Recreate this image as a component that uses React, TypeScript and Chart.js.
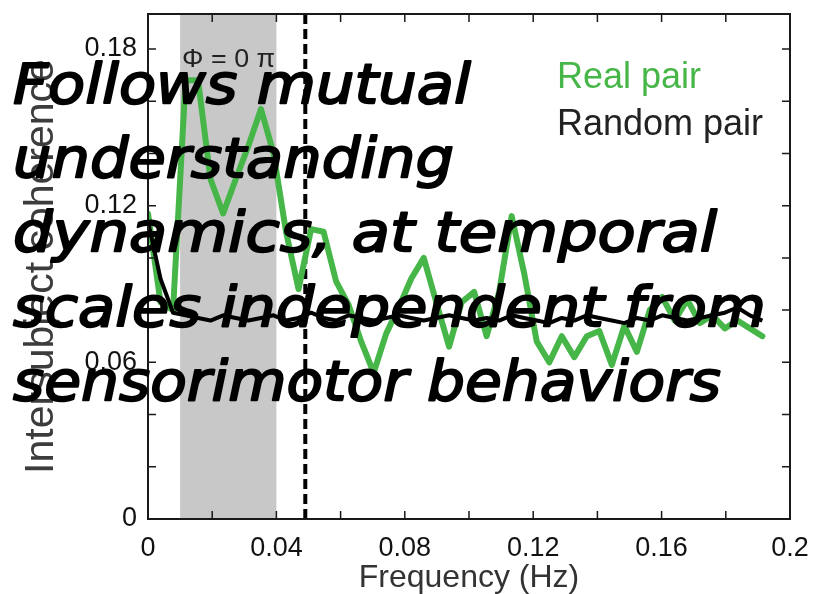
import React, { useEffect, useRef } from 'react';
import { Chart, registerables } from 'chart.js';

Chart.register(...registerables);

// ---- data ----
const frequencies = [
  0, 0.0039, 0.0078, 0.0117, 0.0156, 0.0195, 0.0234, 0.0273, 0.0313, 0.0352,
  0.0391, 0.043, 0.0469, 0.0508, 0.0547, 0.0586, 0.0625, 0.0664, 0.0703, 0.0742,
  0.0781, 0.082, 0.0859, 0.0898, 0.0938, 0.0977, 0.1016, 0.1055, 0.1094, 0.1133,
  0.1172, 0.1211, 0.125, 0.1289, 0.1328, 0.1367, 0.1406, 0.1445, 0.1484, 0.1523,
  0.1563, 0.1602, 0.1641, 0.168, 0.1719, 0.1758, 0.1797, 0.1836, 0.1875, 0.1914,
];

const realPair = [
  0.117, 0.083, 0.080, 0.168, 0.168, 0.130, 0.117, 0.130, 0.143, 0.157,
  0.140, 0.110, 0.088, 0.111, 0.110, 0.091, 0.082, 0.068, 0.056, 0.071,
  0.081, 0.092, 0.100, 0.083, 0.066, 0.083, 0.087, 0.070, 0.087, 0.116,
  0.094, 0.068, 0.060, 0.070, 0.062, 0.070, 0.072, 0.059, 0.074, 0.064,
  0.080, 0.085, 0.076, 0.084, 0.075, 0.078, 0.073, 0.076, 0.073, 0.070,
];

const randomPair = [
  0.114, 0.092, 0.079, 0.078, 0.077, 0.076, 0.078, 0.077, 0.076, 0.077,
  0.078, 0.076, 0.077, 0.079, 0.077, 0.076, 0.078, 0.077, 0.076, 0.077,
  0.078, 0.077, 0.076, 0.077, 0.078, 0.077, 0.076, 0.077, 0.076, 0.078,
  0.077, 0.076, 0.075, 0.077, 0.076, 0.078, 0.077, 0.076, 0.075, 0.077,
  0.076, 0.078, 0.077, 0.076, 0.077, 0.078, 0.079, 0.081, 0.078, 0.076,
];

const seriesLabels = ['Real pair', 'Random pair'];
const xTitle = 'Frequency (Hz)';
const yTitle = 'Intersubject coherence';
const bandRange = [0.01, 0.04];
const bandLabel = 'Φ = 0 π';
const cutoffFrequency = 0.049;
const overlayLines = [
  'Follows mutual',
  'understanding',
  'dynamics, at temporal',
  'scales independent from',
  'sensorimotor behaviors',
];

const X_MAX = 0.2;
const Y_MAX = 0.1934;

const GREEN = '#46b648';
const SANS = '"Liberation Sans", Arial, sans-serif';

function isMultiple(v: number, stepHundredths: number) {
  const h = v * 100;
  const r = Math.round(h);
  return Math.abs(h - r) < 1e-6 && r % stepHundredths === 0;
}

function fmt(v: number) {
  return String(+v.toFixed(2));
}

function drawFitted(ctx: CanvasRenderingContext2D, text: string, x: number, y: number, width: number, stroke = 0) {
  const w = ctx.measureText(text).width;
  ctx.save();
  ctx.translate(x, y);
  ctx.scale(width / w, 1);
  if (stroke > 0) {
    ctx.lineWidth = stroke;
    ctx.lineJoin = 'round';
    ctx.strokeText(text, 0, 0);
  }
  ctx.fillText(text, 0, 0);
  ctx.restore();
}

const decorPlugin = {
  id: 'decor',
  beforeDatasetsDraw(chart: any) {
    const { ctx, chartArea: a, scales } = chart;
    const x = scales.x;
    ctx.save();
    const x0 = x.getPixelForValue(bandRange[0]);
    const x1 = x.getPixelForValue(bandRange[1]);
    ctx.fillStyle = '#c8c8c8';
    ctx.fillRect(x0, a.top, x1 - x0, a.bottom - a.top);

    const xd = x.getPixelForValue(cutoffFrequency);
    ctx.setLineDash([10, 5]);
    ctx.lineWidth = 4;
    ctx.strokeStyle = '#000';
    ctx.beginPath();
    ctx.moveTo(xd, a.top);
    ctx.lineTo(xd, a.bottom);
    ctx.stroke();
    ctx.restore();
  },
  afterDatasetsDraw(chart: any) {
    const { ctx, chartArea: a, scales } = chart;
    const x = scales.x;
    const y = scales.y;
    ctx.save();
    // frame
    ctx.strokeStyle = '#1a1a1a';
    ctx.lineWidth = 2;
    ctx.strokeRect(a.left, a.top, a.right - a.left, a.bottom - a.top);
    // inward ticks
    ctx.lineWidth = 1.5;
    const tl = 8;
    ctx.beginPath();
    x.ticks.forEach((t: any) => {
      if (!isMultiple(t.value, 2)) return;
      const px = x.getPixelForValue(t.value);
      ctx.moveTo(px, a.bottom);
      ctx.lineTo(px, a.bottom - tl);
      ctx.moveTo(px, a.top);
      ctx.lineTo(px, a.top + tl);
    });
    y.ticks.forEach((t: any) => {
      if (!isMultiple(t.value, 2)) return;
      const py = y.getPixelForValue(t.value);
      ctx.moveTo(a.left, py);
      ctx.lineTo(a.left + tl, py);
      ctx.moveTo(a.right, py);
      ctx.lineTo(a.right - tl, py);
    });
    ctx.stroke();

    // band label
    ctx.fillStyle = '#222';
    ctx.font = `25px ${SANS}`;
    ctx.textBaseline = 'alphabetic';
    ctx.textAlign = 'left';
    drawFitted(ctx, bandLabel, x.getPixelForValue(bandRange[0]) + 2, 67, 93);

    // legend (text only)
    ctx.font = `36px ${SANS}`;
    const ds = chart.data.datasets;
    const byLabel = (l: string) => ds.find((d: any) => d.label === l);
    seriesLabels.forEach((l, i) => {
      const d = byLabel(l);
      ctx.fillStyle = i === 0 ? d.borderColor : '#222';
      ctx.fillText(l, 557, 88 + i * 47);
    });
    ctx.restore();
  },
  afterDraw(chart: any) {
    const { ctx } = chart;
    ctx.save();
    ctx.fillStyle = '#000';
    ctx.strokeStyle = '#000';
    ctx.font = 'italic 56px "DejaVu Sans", sans-serif';
    ctx.textBaseline = 'alphabetic';
    ctx.textAlign = 'left';
    const widths = [458, 441, 704, 753, 708];
    overlayLines.forEach((line, i) => {
      drawFitted(ctx, line, 13, 103 + i * 74.2, widths[i], 2);
    });
    ctx.restore();
  },
};

export default function App() {
  const ref = useRef<HTMLCanvasElement>(null);

  useEffect(() => {
    const canvas = ref.current;
    if (!canvas) return;
    const chart = new Chart(canvas, {
      type: 'line',
      data: {
        datasets: [
          {
            label: seriesLabels[0],
            data: frequencies.map((f, i) => ({ x: f, y: realPair[i] })),
            borderColor: GREEN,
            backgroundColor: GREEN,
            borderWidth: 6,
            pointRadius: 0,
            tension: 0,
            borderJoinStyle: 'round',
            borderCapStyle: 'round',
            order: 1,
          },
          {
            label: seriesLabels[1],
            data: frequencies.map((f, i) => ({ x: f, y: randomPair[i] })),
            borderColor: '#000',
            backgroundColor: '#000',
            borderWidth: 4,
            pointRadius: 0,
            tension: 0,
            borderJoinStyle: 'round',
            order: 0,
          },
        ],
      },
      options: {
        responsive: false,
        animation: false,
        devicePixelRatio: 1,
        layout: { padding: { left: 0, top: 14, right: 25, bottom: 0 } },
        plugins: { legend: { display: false }, tooltip: { enabled: false } },
        scales: {
          x: {
            type: 'linear',
            position: 'bottom',
            min: 0,
            max: X_MAX,
            grid: { display: false, drawTicks: false },
            border: { display: false },
            ticks: {
              stepSize: 0.02,
              autoSkip: false,
              maxRotation: 0,
              padding: 13,
              color: '#111',
              font: { family: SANS, size: 27 },
              callback: (v: any) => (isMultiple(Number(v), 4) ? fmt(Number(v)) : ''),
            },
            title: {
              display: true,
              text: xTitle,
              color: '#333',
              font: { family: SANS, size: 32, lineHeight: 1 },
              padding: { top: 0, bottom: 0 },
            },
            afterFit: (s: any) => {
              s.height = 75;
              s.paddingLeft = 0;
              s.paddingRight = 0;
            },
          },
          y: {
            type: 'linear',
            min: 0,
            max: Y_MAX,
            grid: { display: false, drawTicks: false },
            border: { display: false },
            ticks: {
              stepSize: 0.02,
              autoSkip: false,
              padding: 11,
              color: '#111',
              font: { family: SANS, size: 27 },
              callback: (v: any) => (isMultiple(Number(v), 6) ? fmt(Number(v)) : ''),
            },
            title: {
              display: true,
              text: yTitle,
              color: '#3c3c3c',
              font: { family: SANS, size: 41, lineHeight: 1.2 },
              padding: { top: 17, bottom: 0 },
            },
            afterFit: (s: any) => {
              s.width = 148;
              s.paddingTop = 0;
              s.paddingBottom = 0;
            },
          },
        },
      },
      plugins: [decorPlugin],
    } as any);
    return () => chart.destroy();
  }, []);

  return (
    <div style={{ position: 'fixed', left: 0, top: 0, width: 815, height: 594, background: '#fff' }}>
      <canvas ref={ref} width={815} height={594} style={{ display: 'block', width: 815, height: 594 }} />
    </div>
  );
}
